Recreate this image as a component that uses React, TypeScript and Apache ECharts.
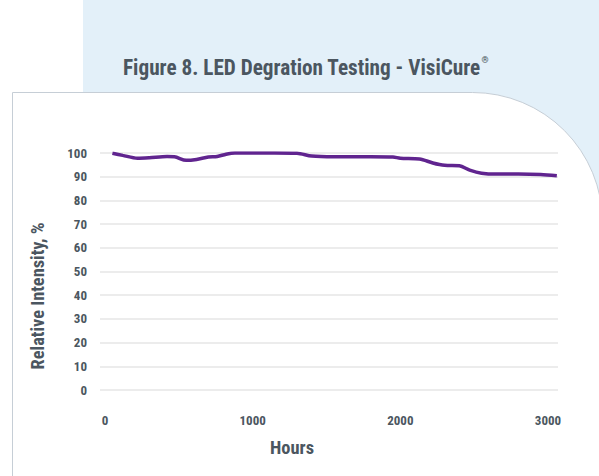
import React, { useEffect, useRef } from "react";
import * as echarts from "echarts";

const TITLE = "Figure 8. LED Degration Testing - VisiCure";
const TITLE_MARK = "®";
const X_NAME = "Hours";
const Y_NAME = "Relative Intensity, %";

const hours = [50, 120, 220, 300, 420, 470, 550, 620, 700, 760, 820, 880, 1000, 1150, 1300, 1400, 1550, 1800, 1950, 2000, 2130, 2220, 2300, 2400, 2470, 2550, 2650, 2800, 2950, 3060];
const intensity = [99.9, 99.0, 97.8, 98.0, 98.5, 98.4, 96.9, 97.3, 98.3, 98.5, 99.5, 100, 100, 100, 99.9, 98.7, 98.4, 98.4, 98.3, 97.8, 97.5, 95.8, 94.8, 94.6, 92.8, 91.5, 91.1, 91.1, 90.9, 90.4];
const xTickLabels = [0, 1000, 2000, 3000];

const FONT = "'Roboto Condensed','Liberation Sans Narrow','Arial Narrow',Roboto,sans-serif";
const TEXT = "#4b5660";

function measure(text: string, font: string): number {
  const c = document.createElement("canvas").getContext("2d");
  if (!c) return text.length * 8;
  c.font = font;
  return c.measureText(text).width;
}

export default function App() {
  const ref = useRef<HTMLDivElement>(null);
  useEffect(() => {
    document.body.style.margin = "0";
    if (!ref.current) return;
    const chart = echarts.init(ref.current, undefined, { renderer: "svg" });

    const titleFont = `bold 22px ${FONT}`;
    const titleW = measure(TITLE, titleFont);
    const titleScale = 358 / titleW;
    const xNameFont = `bold 19px ${FONT}`;
    const xNameScale = 44 / measure(X_NAME, xNameFont);
    const yNameFont = `bold 18px ${FONT}`;
    const yNameScale = 147 / measure(Y_NAME, yNameFont);

    const data = hours.map((h, i) => [h, intensity[i]]);

    chart.setOption({
      animation: false,
      backgroundColor: "#ffffff",
      graphic: [
        { type: "rect", z: -20, shape: { x: 83, y: 0, width: 516, height: 476 }, style: { fill: "#e3f0f9" } },
        {
          type: "rect", z: -10,
          shape: { x: 12.5, y: 92.5, width: 590, height: 420, r: [0, 130, 0, 0] },
          style: { fill: "#ffffff", stroke: "#c6ced6", lineWidth: 1 },
        },
        {
          type: "text", x: 123, y: 67, scaleX: titleScale,
          style: { text: TITLE, font: titleFont, fill: TEXT, align: "left", verticalAlign: "middle" },
        },
        {
          type: "text", x: 123 + titleW * titleScale + 0.5, y: 60,
          style: { text: TITLE_MARK, font: `bold 9px ${FONT}`, fill: TEXT, align: "left", verticalAlign: "middle" },
        },
        {
          type: "text", x: 292, y: 448, scaleX: xNameScale,
          style: { text: X_NAME, font: xNameFont, fill: TEXT, align: "center", verticalAlign: "middle" },
        },
        {
          type: "text", x: 38, y: 296, rotation: Math.PI / 2, scaleX: yNameScale,
          style: { text: Y_NAME, font: yNameFont, fill: TEXT, align: "center", verticalAlign: "middle" },
        },
      ],
      grid: { left: 100, right: 41, top: 153, bottom: 86 },
      xAxis: {
        type: "value",
        min: -34,
        max: 3068,
        axisLine: { show: false },
        axisTick: { show: false },
        splitLine: { show: false },
        axisLabel: {
          customValues: xTickLabels,
          formatter: (v: number) => String(v),
          margin: 24,
          color: TEXT,
          fontFamily: FONT,
          fontWeight: "bold",
          fontSize: 13,
        },
      },
      yAxis: {
        type: "value",
        min: 0,
        max: 100,
        interval: 10,
        axisLine: { show: false },
        axisTick: { show: false },
        splitLine: { lineStyle: { color: "#e6e6e6", width: 1.5 } },
        axisLabel: {
          margin: 13,
          color: TEXT,
          fontFamily: FONT,
          fontWeight: "bold",
          fontSize: 13,
        },
      },
      series: [
        {
          type: "line",
          data,
          smooth: 0.3,
          showSymbol: false,
          lineStyle: { color: "#60248f", width: 3.5 },
        },
      ],
    });
    return () => chart.dispose();
  }, []);
  return <div ref={ref} style={{ width: 599, height: 476 }} />;
}
